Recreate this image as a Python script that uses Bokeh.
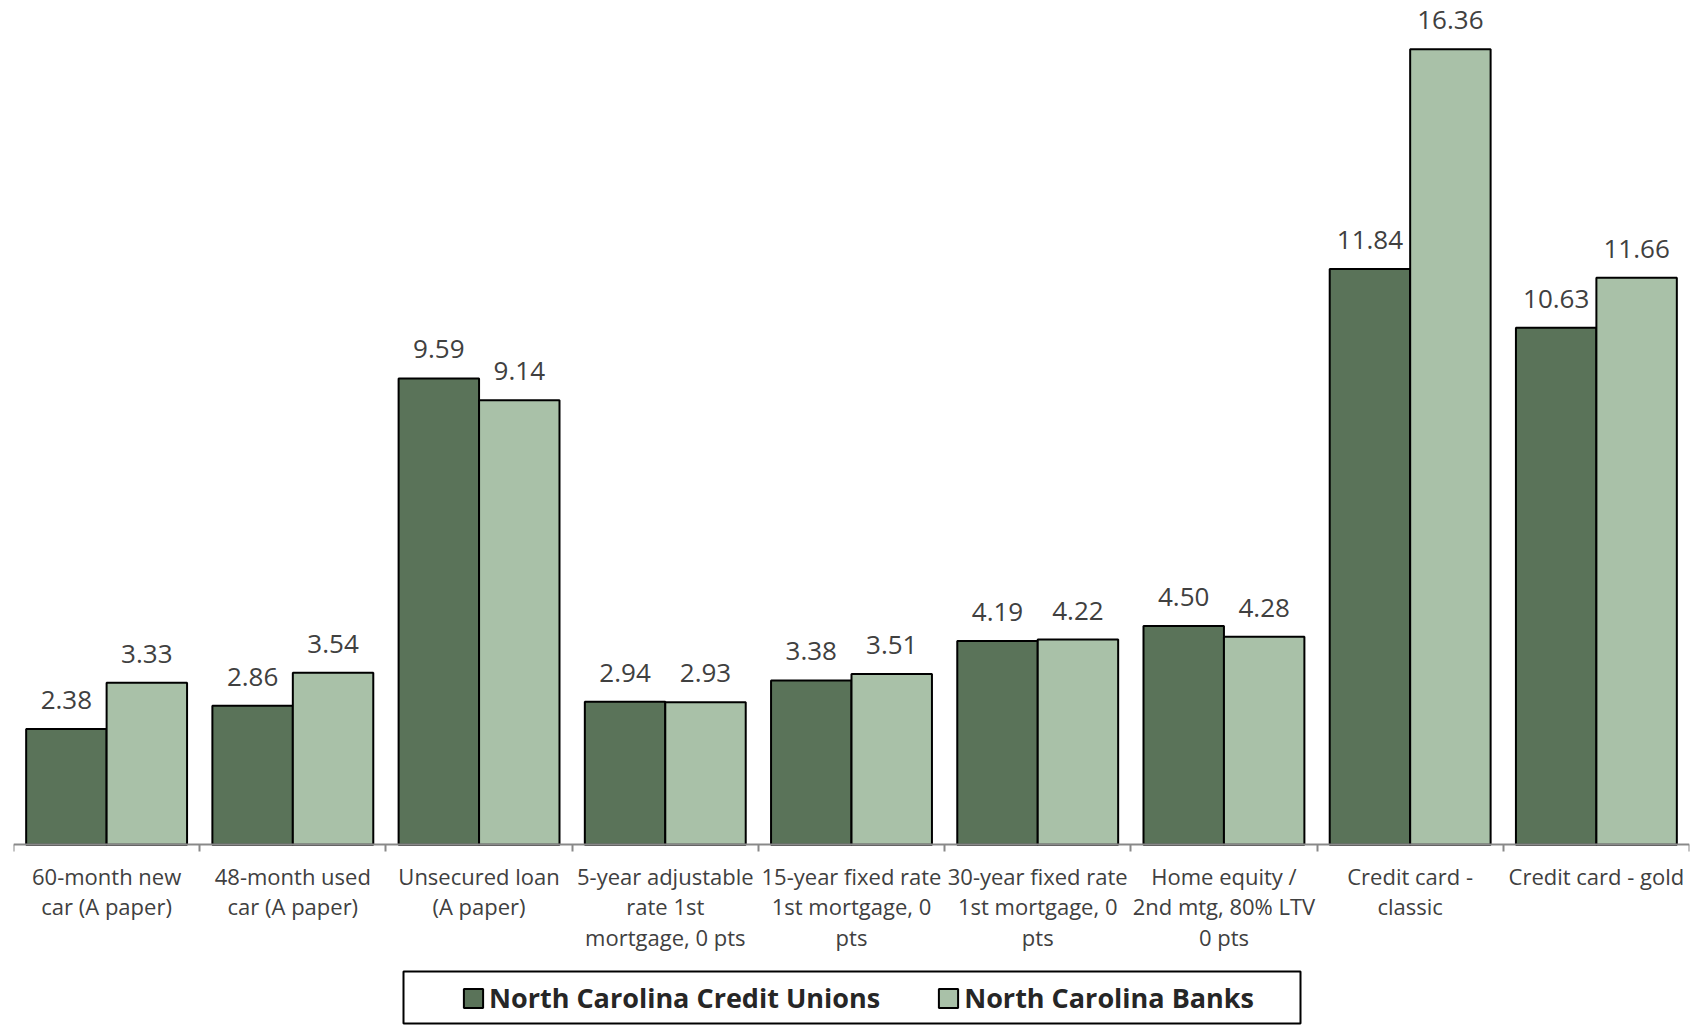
from bokeh.plotting import figure
from bokeh.models import (ColumnDataSource, FactorRange, Range1d, LinearAxis,
                          CategoricalAxis, FixedTicker, Legend, LegendItem, BoxAnnotation)
from bokeh.transform import dodge
from bokeh.core.properties import value
from bokeh.embed import file_html
from bokeh.resources import INLINE

# Average loan rates (%) by product
categories = [
    "60-month new\ncar (A paper)",
    "48-month used\ncar (A paper)",
    "Unsecured loan\n(A paper)",
    "5-year adjustable\nrate 1st\nmortgage, 0 pts",
    "15-year fixed rate\n1st mortgage, 0\npts",
    "30-year fixed rate\n1st mortgage, 0\npts",
    "Home equity /\n2nd mtg, 80% LTV\n0 pts",
    "Credit card -\nclassic",
    "Credit card - gold",
]
credit_unions = [2.38, 2.86, 9.59, 2.94, 3.38, 4.19, 4.50, 11.84, 10.63]
banks = [3.33, 3.54, 9.14, 2.93, 3.51, 4.22, 4.28, 16.36, 11.66]
series_names = ["North Carolina Credit Unions", "North Carolina Banks"]

DARK = "#5A7359"
LIGHT = "#A9C1A8"
TEXT = "#404040"
AXIS = "#898989"
FONT = "Open Sans"

source = ColumnDataSource(dict(
    cat=categories,
    cu=credit_unions,
    bk=banks,
    cu_lbl=[f"{v:.2f}" for v in credit_unions],
    bk_lbl=[f"{v:.2f}" for v in banks],
))

# The plot frame spans the full height; the space under zero holds the
# category labels and the legend.
p = figure(
    x_range=FactorRange(*categories),
    y_range=Range1d(-3.716, 17.362),
    width=1698, height=1025,
    output_backend="svg", toolbar_location=None,
    x_axis_location=None, y_axis_location=None,
    min_border_left=13, min_border_right=9,
    min_border_top=0, min_border_bottom=0,
)
p.outline_line_color = None
p.grid.visible = False
p.background_fill_color = "white"
p.border_fill_color = "white"

bw = 0.432
off = 0.216
r_cu = p.vbar(x=dodge("cat", -off, range=p.x_range), top="cu", width=bw, source=source,
              fill_color=DARK, line_color="black", line_width=2)
r_bk = p.vbar(x=dodge("cat", off, range=p.x_range), top="bk", width=bw, source=source,
              fill_color=LIGHT, line_color="black", line_width=2)

for col, lbl, dx in (("cu", "cu_lbl", -off), ("bk", "bk_lbl", off)):
    p.text(x=dodge("cat", dx, range=p.x_range), y=col, text=lbl, source=source,
           text_font=value(FONT), text_font_size="26px", text_color=TEXT,
           text_align="center", text_baseline="alphabetic", y_offset=-29)

# Baseline with tick marks at the category boundaries (synthetic positions 0..n)
bound_axis = LinearAxis(fixed_location=0,
                        ticker=FixedTicker(ticks=list(range(len(categories) + 1)), minor_ticks=[]),
                        axis_line_color=AXIS, axis_line_width=2,
                        major_tick_line_color=AXIS, major_tick_line_width=2,
                        major_tick_in=0, major_tick_out=7,
                        minor_tick_line_color=None,
                        major_label_text_color=None, major_label_standoff=0)
p.add_layout(bound_axis, "below")

# Category names
cat_axis = CategoricalAxis(fixed_location=0,
                           axis_line_color=None, major_tick_line_color=None,
                           major_tick_in=0, major_tick_out=0,
                           minor_tick_line_color=None,
                           major_label_text_font=FONT, major_label_text_font_size="22px",
                           major_label_text_color=TEXT, major_label_text_line_height=1.02,
                           major_label_standoff=16)
p.add_layout(cat_axis, "below")

legend = Legend(items=[LegendItem(label=series_names[0], renderers=[r_cu]),
                       LegendItem(label=series_names[1], renderers=[r_bk])],
                orientation="horizontal", location=(448, 9),
                border_line_color=None, background_fill_alpha=0,
                padding=0, margin=0, spacing=56,
                glyph_width=24, glyph_height=24, label_standoff=4,
                label_text_font=FONT, label_text_font_style="bold",
                label_text_font_size="27px", label_text_color="#262626")
p.add_layout(legend, "center")

p.add_layout(BoxAnnotation(left=403, right=1300, top=971, bottom=1023,
                           left_units="canvas", right_units="canvas",
                           top_units="canvas", bottom_units="canvas",
                           fill_alpha=0, line_color="black", line_alpha=1.0, line_width=2))

open("out.html", "w").write(file_html(p, INLINE))
